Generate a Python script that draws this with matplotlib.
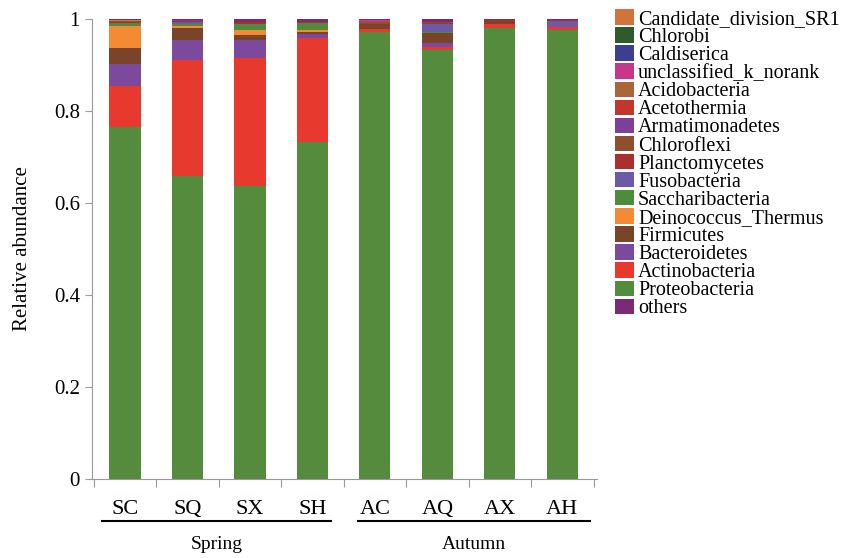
import numpy as np
import matplotlib.pyplot as plt
from matplotlib.patches import Patch

plt.rcParams['font.family'] = ['Liberation Serif', 'DejaVu Serif']

samples = ['SC', 'SQ', 'SX', 'SH', 'AC', 'AQ', 'AX', 'AH']
seasons = ['Spring', 'Autumn']

# phyla from bottom of the stack upward
proteobacteria = [0.765, 0.658, 0.637, 0.733, 0.972, 0.932, 0.980, 0.977]
actinobacteria = [0.090, 0.252, 0.278, 0.225, 0.006, 0.008, 0.010, 0.006]
bacteroidetes = [0.048, 0.045, 0.040, 0.010, 0.000, 0.008, 0.000, 0.000]
firmicutes = [0.034, 0.026, 0.010, 0.004, 0.012, 0.022, 0.006, 0.000]
deinococcus = [0.048, 0.004, 0.010, 0.004, 0.000, 0.000, 0.000, 0.000]
saccharibacteria = [0.006, 0.004, 0.015, 0.015, 0.000, 0.002, 0.000, 0.000]
fusobacteria = [0.000, 0.004, 0.000, 0.000, 0.000, 0.018, 0.000, 0.012]
planctomycetes = [0.002, 0.003, 0.004, 0.003, 0.000, 0.002, 0.002, 0.002]
chloroflexi = [0.002, 0.000, 0.000, 0.000, 0.004, 0.002, 0.000, 0.000]
armatimonadetes = [0.000, 0.001, 0.000, 0.000, 0.000, 0.000, 0.000, 0.000]
acetothermia = [0.000, 0.000, 0.000, 0.000, 0.000, 0.000, 0.000, 0.000]
acidobacteria = [0.000, 0.000, 0.000, 0.000, 0.000, 0.000, 0.000, 0.000]
unclassified = [0.000, 0.000, 0.000, 0.000, 0.004, 0.000, 0.000, 0.000]
caldiserica = [0.000, 0.000, 0.000, 0.000, 0.000, 0.000, 0.000, 0.000]
chlorobi = [0.000, 0.000, 0.000, 0.000, 0.000, 0.000, 0.000, 0.000]
sr1 = [0.002, 0.000, 0.000, 0.000, 0.000, 0.000, 0.000, 0.000]
others = [0.003, 0.003, 0.006, 0.006, 0.002, 0.006, 0.002, 0.003]

series = [
    ('Proteobacteria', proteobacteria, '#548b3c'),
    ('Actinobacteria', actinobacteria, '#e8392f'),
    ('Bacteroidetes', bacteroidetes, '#7c4a9c'),
    ('Firmicutes', firmicutes, '#7a4429'),
    ('Deinococcus_Thermus', deinococcus, '#f48a33'),
    ('Saccharibacteria', saccharibacteria, '#4d8c3b'),
    ('Fusobacteria', fusobacteria, '#6b5ba6'),
    ('Planctomycetes', planctomycetes, '#a9302f'),
    ('Chloroflexi', chloroflexi, '#8f4f2f'),
    ('Armatimonadetes', armatimonadetes, '#7d3f97'),
    ('Acetothermia', acetothermia, '#c2372c'),
    ('Acidobacteria', acidobacteria, '#a8663a'),
    ('unclassified_k_norank', unclassified, '#c6378a'),
    ('Caldiserica', caldiserica, '#3c3f90'),
    ('Chlorobi', chlorobi, '#2f5a2b'),
    ('Candidate_division_SR1', sr1, '#d1733b'),
    ('others', others, '#7a2a77'),
]

fig = plt.figure(figsize=(8.5, 5.58), dpi=100)
ax = fig.add_axes([0.108, 0.1416, 0.594, 0.8244])

x = np.arange(len(samples))
bottom = np.zeros(len(samples))
for name, vals, color in series:
    vals = np.asarray(vals)
    ax.bar(x, vals, width=0.5, bottom=bottom, color=color, linewidth=0)
    bottom += vals

ax.set_xlim(-0.53, 7.55)
ax.set_ylim(0, 1)
ax.set_yticks([0, 0.2, 0.4, 0.6, 0.8, 1])
ax.set_yticklabels(['0', '0.2', '0.4', '0.6', '0.8', '1'], fontsize=15)
ax.set_ylabel('Relative abundance', fontsize=15, labelpad=16)

# sample names centred under bars, ticks on the boundaries between them
ax.set_xticks(np.arange(-0.5, 8, 1))
ax.set_xticklabels([])
ax.tick_params(axis='x', length=6, color='#999999', direction='out')
ax.tick_params(axis='y', length=5, color='#999999', direction='out')
for i, s in enumerate(samples):
    ax.text(i, -0.045, s, ha='center', va='top', fontsize=16,
            transform=ax.transData, clip_on=False)

for side in ['top', 'right']:
    ax.spines[side].set_visible(False)
for side in ['left', 'bottom']:
    ax.spines[side].set_color('#999999')

# season groups underlined
groups = [(-0.37, 3.3, seasons[0]), (3.73, 7.45, seasons[1])]
for x0, x1, label in groups:
    ax.plot([x0, x1], [-0.092, -0.092], color='black', lw=1.5, clip_on=False)
    ax.text((x0 + x1) / 2, -0.124, label, ha='center', va='top', fontsize=14,
            clip_on=False)

handles = [Patch(facecolor=c, label=n) for n, v, c in series]
handles = handles[::-1]
handles = handles[1:] + handles[:1]
fig.legend(handles=handles, loc='upper left', bbox_to_anchor=(0.714, 0.998),
           frameon=False, fontsize=14.5, handlelength=0.95, handleheight=0.8,
           handletextpad=0.2, labelspacing=-0.08, borderaxespad=0)

fig.savefig('out.png', dpi=100)
